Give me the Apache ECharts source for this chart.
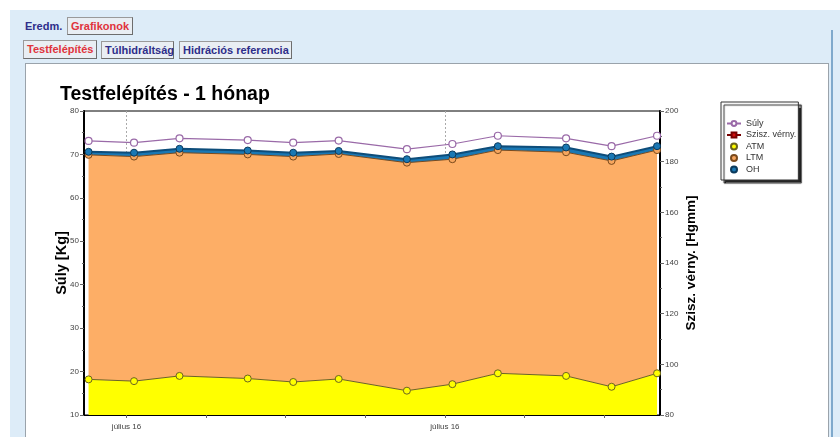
<!DOCTYPE html>
<html>
<head>
<meta charset="utf-8">
<script src="https://cdn.jsdelivr.net/npm/echarts@6/dist/echarts.min.js"></script>
<style>
  html, body { margin: 0; padding: 0; background: #fff; }
  body { width: 840px; height: 437px; position: relative; overflow: hidden; font-family: Arial, "Liberation Sans", sans-serif; }
  .frame { position: absolute; left: 10px; top: 10px; width: 830px; height: 427px; background: #ddecf8; }
  .tab { position: absolute; font-size: 11px; font-weight: bold; color: #2e2e8a; line-height: 14px; padding: 0 3px; box-sizing: border-box; white-space: nowrap; }
  .tab.box { border: 1px solid #9a9a9a; border-right-color: #6d6d6d; border-bottom-color: #6d6d6d; background: #e9eef3; }
  .tab.sel { color: #e0343c; }
  .panel { position: absolute; left: 25px; top: 63px; width: 804px; height: 380px; background: #fff; border: 1px solid #9aa3ab; box-sizing: border-box; }
  .edge { position: absolute; left: 831px; top: 30px; width: 2px; height: 407px; background: #7fa9cc; }
  #chart { position: absolute; left: 0; top: 0; width: 840px; height: 437px; }
</style>
</head>
<body>
<div class="frame"></div>
<div class="tab" style="left:22px;top:19px;">Eredm.</div>
<div class="tab box sel" style="left:67px;top:17px;width:66px;height:18px;line-height:16px;">Grafikonok</div>
<div class="tab box sel" style="left:23px;top:40px;width:74px;height:19px;line-height:17px;">Testfelépítés</div>
<div class="tab box" style="left:101px;top:41px;width:73px;height:18px;line-height:16px;">Túlhidráltság</div>
<div class="tab box" style="left:179px;top:41px;width:113px;height:18px;line-height:16px;">Hidrációs referencia</div>
<div class="panel"></div>
<div class="edge"></div>
<div id="chart"></div>
<script>
// measurement times in days, relative to the first "július 16" tick
const days = [-1.67, 0.33, 2.33, 5.33, 7.33, 9.33, 12.33, 14.33, 16.33, 19.33, 21.33, 23.33];
const suly = [73.1, 72.7, 73.7, 73.3, 72.7, 73.2, 71.2, 72.4, 74.3, 73.7, 71.9, 74.3];
const atm = [18.2, 17.8, 19.0, 18.4, 17.6, 18.3, 15.6, 17.1, 19.6, 19.0, 16.5, 19.6];
const ltm = [51.7, 51.7, 51.4, 51.6, 51.9, 51.8, 52.5, 51.8, 51.4, 51.5, 52.0, 51.4];
const oh = [0.7, 0.9, 0.9, 0.9, 0.9, 0.7, 0.8, 1.1, 0.9, 1.1, 1.0, 0.9];
const sziszVerny = [];
const xTickDays = [0, 3.5, 7, 10.5, 14, 17.5, 21];
const xLabelDays = [0, 14];
const xLabels = ['július 16', 'július 16'];

const DAY = 86400000;
const BASE = Date.UTC(2013, 6, 16);
const toTime = d => BASE + d * DAY;
const pairs = arr => arr.map((v, i) => [toTime(days[i]), v]);

const chart = echarts.init(document.getElementById('chart'));

const axisLabelStyle = { color: '#444', fontSize: 8, fontFamily: 'Arial, Liberation Sans' };
const xMin = toTime(-1.87);
const xMax = toTime(23.46);
const labelTimes = xLabelDays.map(toTime);

chart.setOption({
    backgroundColor: 'transparent',
    animation: false,
    title: {
        text: 'Testfelépítés - 1 hónap',
        left: 55,
        top: 80,
        textStyle: { fontSize: 19.5, fontWeight: 'bold', color: '#000', fontFamily: 'Arial, Liberation Sans' }
    },
    legend: {
        orient: 'vertical',
        left: 721,
        top: 102,
        padding: [17, 2, 6, 5],
        itemGap: 2.5,
        itemWidth: 14,
        itemHeight: 6,
        backgroundColor: '#fff',
        borderColor: '#333',
        borderWidth: 1,
        shadowColor: 'rgba(0,0,0,0.85)',
        shadowBlur: 1,
        shadowOffsetX: 3,
        shadowOffsetY: 3,
        textStyle: { fontSize: 9, color: '#333', fontFamily: 'Arial, Liberation Sans' },
        data: [
            { name: 'Súly' },
            { name: 'Szisz. vérny.' },
            { name: 'ATM', icon: 'circle' },
            { name: 'LTM', icon: 'circle' },
            { name: 'OH', icon: 'circle' }
        ]
    },
    grid: {
        left: 84, right: 180, top: 111, bottom: 22,
        show: true, borderColor: '#000', borderWidth: 1
    },
    xAxis: [
        {
            type: 'value', min: xMin, max: xMax,
            axisLine: { show: true, onZero: false, lineStyle: { color: '#000' } },
            axisTick: { show: true, length: 3, lineStyle: { color: '#666' }, customValues: xTickDays.map(toTime) },
            axisLabel: {
                ...axisLabelStyle,
                customValues: labelTimes,
                formatter: v => {
                    const k = labelTimes.indexOf(v);
                    return k >= 0 ? xLabels[k] : '';
                }
            },
            splitLine: { show: false }
        },
        {
            type: 'value', min: xMin, max: xMax,
            axisLine: { show: false },
            axisTick: { show: false, customValues: labelTimes },
            axisLabel: { show: false, customValues: labelTimes },
            splitLine: { show: true, lineStyle: { color: '#aaa', type: [2, 2] } }
        },
        {
            type: 'time', min: xMin, max: xMax, show: false,
            splitLine: { show: false }
        }
    ],
    yAxis: [
        {
            type: 'value', min: 10, max: 80, interval: 10,
            name: 'Súly [Kg]', nameLocation: 'middle', nameGap: 15, nameMoveOverlap: false,
            nameTextStyle: { fontSize: 14.5, fontWeight: 'bold', color: '#000', fontFamily: 'Arial, Liberation Sans' },
            axisLine: { show: true, onZero: false, lineStyle: { color: '#000', width: 2 } },
            axisTick: { show: true, length: 4, lineStyle: { color: '#666' } },
            minorTick: { show: true, splitNumber: 2, length: 2, lineStyle: { color: '#666' } },
            axisLabel: { ...axisLabelStyle, margin: 5 },
            splitLine: { show: false }
        },
        {
            type: 'value', min: 80, max: 200, interval: 20, position: 'right',
            name: 'Szisz. vérny. [Hgmm]', nameLocation: 'middle', nameGap: 24, nameRotate: 90, nameMoveOverlap: false,
            nameTextStyle: { fontSize: 13.5, fontWeight: 'bold', color: '#000', fontFamily: 'Arial, Liberation Sans' },
            axisLine: { show: true, onZero: false, lineStyle: { color: '#000', width: 2 } },
            axisTick: { show: true, length: 4, lineStyle: { color: '#666' } },
            minorTick: { show: true, splitNumber: 2, length: 2, lineStyle: { color: '#666' } },
            axisLabel: { ...axisLabelStyle, margin: 5 },
            splitLine: { show: false }
        }
    ],
    series: [
        {
            name: 'ATM', type: 'line', stack: 'body', data: pairs(atm), xAxisIndex: 2,
            symbol: 'circle', symbolSize: 7,
            itemStyle: { color: '#ffff00', borderColor: '#6b6420', borderWidth: 1 },
            lineStyle: { color: '#6b6420', width: 1 },
            areaStyle: { color: '#ffff00', opacity: 1 }
        },
        {
            name: 'LTM', type: 'line', stack: 'body', data: pairs(ltm), xAxisIndex: 2,
            symbol: 'circle', symbolSize: 7,
            itemStyle: { color: '#f7a65e', borderColor: '#7a4a1c', borderWidth: 1 },
            lineStyle: { color: '#7a4a1c', width: 1 },
            areaStyle: { color: '#fdae66', opacity: 1 }
        },
        {
            name: 'OH', type: 'line', stack: 'body', data: pairs(oh), xAxisIndex: 2,
            symbol: 'circle', symbolSize: 7,
            itemStyle: { color: '#1a78b4', borderColor: '#0b3a5c', borderWidth: 1 },
            lineStyle: { color: '#0e4d7a', width: 2 },
            areaStyle: { color: '#1a78b4', opacity: 1 }
        },
        {
            name: 'Súly', type: 'line', data: pairs(suly), xAxisIndex: 2,
            symbol: 'circle', symbolSize: 7,
            itemStyle: { color: '#fff', borderColor: '#9a6aa8', borderWidth: 1.2 },
            lineStyle: { color: '#9a6aa8', width: 1.2 }
        },
        {
            name: 'Szisz. vérny.', type: 'line', yAxisIndex: 1, data: sziszVerny, xAxisIndex: 2,
            symbol: 'rect', symbolSize: 7,
            itemStyle: { color: '#d01010', borderColor: '#700', borderWidth: 1 },
            lineStyle: { color: '#700', width: 1.2 }
        }
    ]
});
</script>
</body>
</html>
